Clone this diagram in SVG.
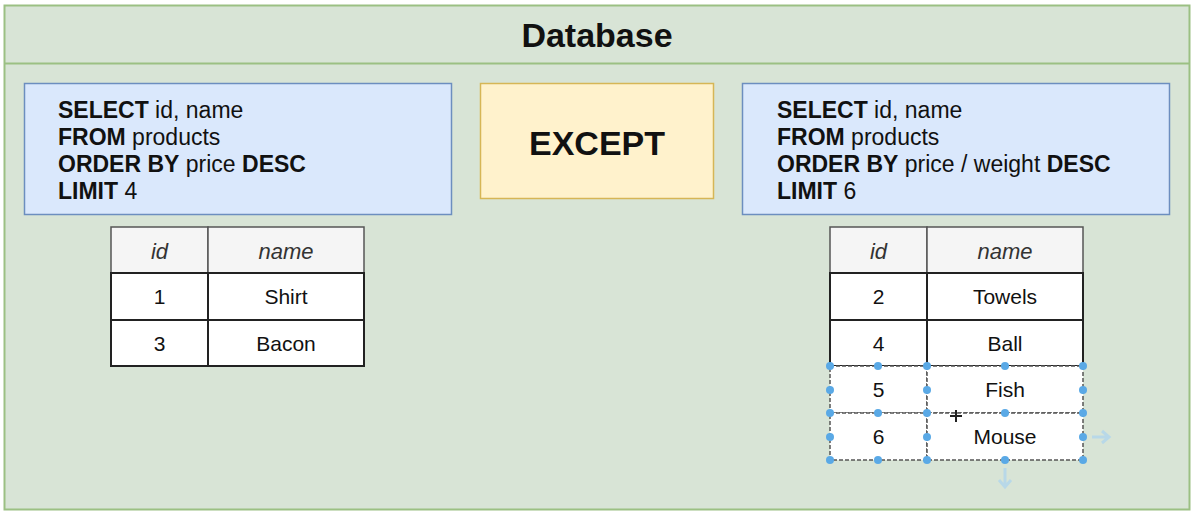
<svg xmlns="http://www.w3.org/2000/svg" width="1194" height="514" viewBox="0 0 1194 514">
<defs>
<style>
.t{font-family:"Liberation Sans",Arial,sans-serif;fill:#111}
.sql{font-size:23px}
.b{font-weight:bold}
.hd{font-family:"Liberation Sans",Arial,sans-serif;font-size:22px;font-style:italic;fill:#333;text-anchor:middle}
.cell{font-family:"Liberation Sans",Arial,sans-serif;font-size:21px;fill:#111;text-anchor:middle}
.blue{fill:#dae8fc;stroke:#6c8ebf;stroke-width:1.5}
.hrow{fill:#f5f5f5;stroke:#555;stroke-width:1.5}
.row{fill:#fff;stroke:#222;stroke-width:2}
.srow{fill:#fff;stroke:#555;stroke-width:1.5;stroke-dasharray:4 2}
.h{fill:#5aa9e6}
.ar{stroke:#b8d8e8;stroke-width:3;fill:none}
</style>
</defs>
<rect width="1194" height="514" fill="#ffffff"/>
<g id="database">
<rect x="4.5" y="5.5" width="1185" height="504" fill="#d8e4d6" stroke="#9bc083" stroke-width="2"/>
<line x1="4.5" y1="63.5" x2="1189.5" y2="63.5" stroke="#9bc083" stroke-width="2"/>
<text class="t b" x="597" y="47" font-size="34" text-anchor="middle">Database</text>
</g>
<g id="query-left">
<rect class="blue" x="24.5" y="83.5" width="427" height="131"/>
<text class="t sql" x="58"><tspan x="58" y="118"><tspan class="b">SELECT</tspan> id, name</tspan><tspan x="58" y="145"><tspan class="b">FROM</tspan> products</tspan><tspan x="58" y="172"><tspan class="b">ORDER BY</tspan> price <tspan class="b">DESC</tspan></tspan><tspan x="58" y="199"><tspan class="b">LIMIT</tspan> 4</tspan></text>
</g>
<g id="except">
<rect x="480.5" y="83.5" width="233" height="115" fill="#fff2cc" stroke="#d6b656" stroke-width="1.5"/>
<text class="t b" x="597" y="155" font-size="34" text-anchor="middle">EXCEPT</text>
</g>
<g id="query-right">
<rect class="blue" x="742.5" y="83.5" width="427" height="131"/>
<text class="t sql" x="777"><tspan x="777" y="118"><tspan class="b">SELECT</tspan> id, name</tspan><tspan x="777" y="145"><tspan class="b">FROM</tspan> products</tspan><tspan x="777" y="172"><tspan class="b">ORDER BY</tspan> price / weight <tspan class="b">DESC</tspan></tspan><tspan x="777" y="199"><tspan class="b">LIMIT</tspan> 6</tspan></text>
</g>
<g id="table-left">
<rect class="hrow" x="111" y="227" width="97" height="46"/>
<rect class="hrow" x="208" y="227" width="156" height="46"/>
<text class="hd" x="159.5" y="259">id</text>
<text class="hd" x="286" y="259">name</text>
<rect class="row" x="111" y="273" width="97" height="47"/>
<rect class="row" x="208" y="273" width="156" height="47"/>
<text class="cell" x="159.5" y="304">1</text>
<text class="cell" x="286" y="304">Shirt</text>
<rect class="row" x="111" y="320" width="97" height="46"/>
<rect class="row" x="208" y="320" width="156" height="46"/>
<text class="cell" x="159.5" y="351">3</text>
<text class="cell" x="286" y="351">Bacon</text>
</g>
<g id="table-right">
<rect class="hrow" x="830" y="227" width="97" height="46"/>
<rect class="hrow" x="927" y="227" width="156" height="46"/>
<text class="hd" x="878.5" y="259">id</text>
<text class="hd" x="1005" y="259">name</text>
<rect class="row" x="830" y="273" width="97" height="47"/>
<rect class="row" x="927" y="273" width="156" height="47"/>
<text class="cell" x="878.5" y="304">2</text>
<text class="cell" x="1005" y="304">Towels</text>
<rect class="row" x="830" y="320" width="97" height="46"/>
<rect class="row" x="927" y="320" width="156" height="46"/>
<text class="cell" x="878.5" y="351">4</text>
<text class="cell" x="1005" y="351">Ball</text>
<rect class="srow" x="830" y="366" width="97" height="47"/>
<rect class="srow" x="927" y="366" width="156" height="47"/>
<text class="cell" x="878.5" y="397">5</text>
<text class="cell" x="1005" y="397">Fish</text>
<rect class="srow" x="830" y="413" width="97" height="47"/>
<rect class="srow" x="927" y="413" width="156" height="47"/>
<text class="cell" x="878.5" y="444">6</text>
<text class="cell" x="1005" y="444">Mouse</text>
</g>
<g id="selection">
<g class="h">
<circle cx="830" cy="366" r="4"/><circle cx="878" cy="366" r="4"/><circle cx="927" cy="366" r="4"/><circle cx="1005" cy="366" r="4"/><circle cx="1083" cy="366" r="4"/>
<circle cx="830" cy="413" r="4"/><circle cx="878" cy="413" r="4"/><circle cx="927" cy="413" r="4"/><circle cx="1005" cy="413" r="4"/><circle cx="1083" cy="413" r="4"/>
<circle cx="830" cy="460" r="4"/><circle cx="878" cy="460" r="4"/><circle cx="927" cy="460" r="4"/><circle cx="1005" cy="460" r="4"/><circle cx="1083" cy="460" r="4"/>
<circle cx="830" cy="390" r="4"/><circle cx="927" cy="390" r="4"/><circle cx="1083" cy="390" r="4"/>
<circle cx="830" cy="437" r="4"/><circle cx="927" cy="437" r="4"/><circle cx="1083" cy="437" r="4"/>
</g>
<path class="ar" d="M1092 437 H1108 M1102 431 L1109 437 L1102 443"/>
<path class="ar" d="M1005 468 V486 M999 480 L1005 487 L1011 480"/>
<path d="M956 410 V422 M950 416 H962" stroke="#222" stroke-width="2"/>
</g>
</svg>
